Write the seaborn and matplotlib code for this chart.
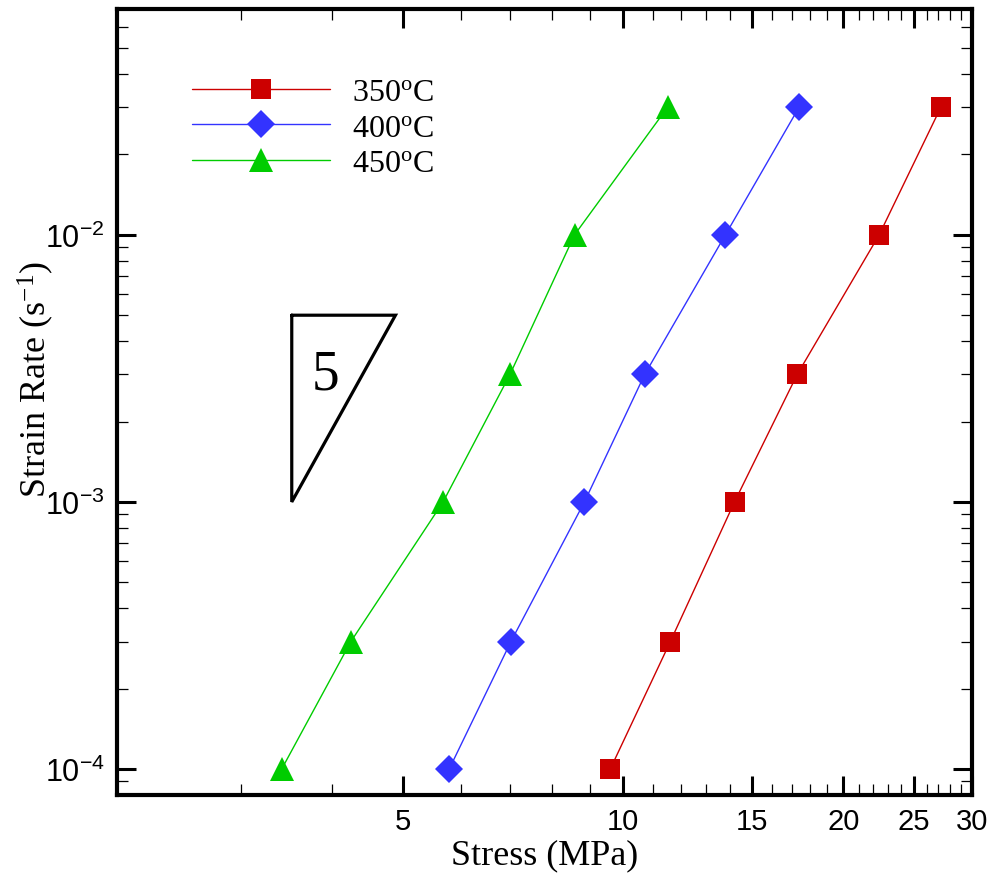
import numpy as np
import pandas as pd
import matplotlib
matplotlib.use("Agg")
import matplotlib.pyplot as plt
import matplotlib.ticker as mticker
import seaborn as sns

# ---- data ----
strain_rate = [1e-4, 3e-4, 1e-3, 3e-3, 1e-2, 3e-2]
stress_350 = [9.6, 11.6, 14.2, 17.3, 22.4, 27.2]
stress_400 = [5.78, 7.02, 8.85, 10.7, 13.8, 17.4]
stress_450 = [3.41, 4.24, 5.67, 7.0, 8.58, 11.5]
series_labels = ["350$\\mathregular{^o}$C", "400$\\mathregular{^o}$C", "450$\\mathregular{^o}$C"]
series_colors = ["#CC0000", "#3333FF", "#00CC00"]
series_markers = ["s", "D", "^"]
marker_sizes = [15, 14, 17]

slope_x = [3.52, 4.88, 3.52, 3.52]
slope_y = [5e-3, 5e-3, 1e-3, 5e-3]
slope_label = "5"

x_major = [5, 10, 15, 20, 25, 30]
y_major = [1e-4, 1e-3, 1e-2]

rows = []
for lab, xs in zip(series_labels, [stress_350, stress_400, stress_450]):
    for x, y in zip(xs, strain_rate):
        rows.append({"Stress": x, "Rate": y, "T": lab})
df = pd.DataFrame(rows)

sns.set_style("ticks", {"axes.edgecolor": "black", "xtick.color": "black",
                        "ytick.color": "black", "text.color": "black",
                        "axes.labelcolor": "black"})
plt.rcParams["font.family"] = ["Liberation Serif", "DejaVu Serif"]
plt.rcParams["axes.unicode_minus"] = False

fig = plt.figure(figsize=(10.02, 8.78), dpi=100)
ax = fig.add_axes([0.1168, 0.0934, 0.8532, 0.8952])
ax.set_xscale("log")
ax.set_yscale("log")

for lab, col, mk, ms in zip(series_labels, series_colors, series_markers, marker_sizes):
    sub = df[df["T"] == lab]
    sns.lineplot(data=sub, x="Stress", y="Rate", ax=ax, color=col, marker=mk,
                 markersize=ms, markeredgewidth=0, linewidth=1.0, label=lab,
                 sort=False)

ax.plot(slope_x, slope_y, color="black", linewidth=2.3, solid_joinstyle="miter")
ax.text(3.92, 3.0e-3, slope_label, fontsize=40, ha="center", va="center",
        family=["Liberation Serif"])

ax.set_xlim(2.03, 30.0)
ax.set_ylim(8.0e-5, 7.0e-2)

ax.xaxis.set_major_locator(mticker.FixedLocator(x_major))
ax.xaxis.set_major_formatter(mticker.FixedFormatter([str(v) for v in x_major]))
ax.xaxis.set_minor_locator(mticker.FixedLocator([v for v in range(3, 30) if v not in x_major]))
ax.xaxis.set_minor_formatter(mticker.NullFormatter())

ax.yaxis.set_major_locator(mticker.FixedLocator(y_major))
ax.yaxis.set_major_formatter(mticker.FuncFormatter(
    lambda v, p: "$\\mathregular{10^{%d}}$" % int(round(np.log10(v)))))
ax.yaxis.set_minor_locator(mticker.LogLocator(base=10, subs=np.arange(2, 10), numticks=20))
ax.yaxis.set_minor_formatter(mticker.NullFormatter())

ax.tick_params(which="major", direction="in", length=14, width=2.2, top=True, right=True,
               labelsize=21, pad=9, color="black")
ax.tick_params(which="minor", direction="in", length=8, width=0.9, top=True, right=True,
               color="black")
for lbl in ax.get_xticklabels():
    lbl.set_family(["Liberation Sans", "DejaVu Sans"])
for lbl in ax.get_yticklabels():
    lbl.set_family(["Liberation Sans", "DejaVu Sans"])
    lbl.set_fontsize(22)

for s in ax.spines.values():
    s.set_linewidth(3)
    s.set_color("black")
    s.set_visible(True)

ax.set_xlabel("Stress (MPa)", fontsize=26, labelpad=2)
ax.set_ylabel("Strain Rate (s$\\mathregular{^{-1}}$)", fontsize=26)
ax.yaxis.set_label_coords(-0.071, 0.53)

leg = ax.legend(loc="upper left", bbox_to_anchor=(0.088, 0.913), frameon=False,
                fontsize=23, handlelength=4.3, handletextpad=0.7, labelspacing=0.2,
                borderpad=0, borderaxespad=0)

fig.savefig("out.png", dpi=100)
